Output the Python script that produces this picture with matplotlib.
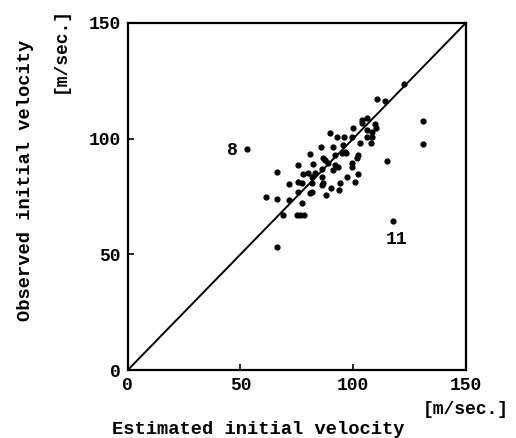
import matplotlib
matplotlib.use("Agg")
from matplotlib import pyplot as plt

# estimated vs observed initial velocity [m/sec.]
estimated = [52.8, 61.2, 66.1, 66.1, 66.1, 68.7, 71.7, 71.7, 75.4, 75.4,
             75.0, 76.5, 78.0, 77.3, 77.3, 77.9, 80.8, 80.8, 82.3, 81.6,
             83.0, 85.7, 86.7, 86.0, 87.9, 89.7, 91.2, 92.7, 90.1, 93.8,
             94.1, 96.3, 97.1, 99.3, 100.0, 100.8, 102.3, 103.0, 103.7, 105.9,
             105.9, 107.7, 108.2, 109.6, 110.4, 114.1, 114.8, 117.5, 122.7, 131.1,
             130.8, 87.4, 91.9, 94.8, 97.0, 102.2, 101.5, 99.3, 88.9, 91.9,
             93.3, 80.0, 86.0, 91.1, 99.3, 75.6, 81.5, 86.7, 86.0, 81.7,
             95.5, 95.8, 104.1, 110.3, 105.9, 108.1]
observed = [95.7, 74.6, 85.6, 73.8, 53.0, 67.2, 80.2, 73.4, 88.5, 77.0,
            66.9, 66.9, 66.9, 72.3, 80.9, 84.6, 93.3, 76.3, 89.0, 83.5,
            85.0, 96.2, 91.4, 79.9, 75.6, 102.2, 96.4, 100.8, 78.5, 77.7,
            80.6, 94.3, 83.5, 100.8, 104.4, 81.3, 84.9, 97.9, 108.0, 108.7,
            100.8, 97.9, 102.9, 106.5, 117.0, 116.2, 90.3, 64.3, 123.4, 107.5,
            97.5, 90.7, 92.9, 93.6, 93.6, 92.9, 91.4, 89.3, 89.6, 88.6,
            87.8, 85.3, 86.7, 86.4, 87.8, 81.4, 80.6, 80.6, 83.5, 77.0,
            97.2, 100.5, 106.6, 104.4, 103.7, 100.8]

ticks = [0, 50, 100, 150]
labels = {"8": (46.2, 95.0), "11": (119.4, 56.6)}

plt.rcParams['font.family'] = ['Liberation Mono', 'DejaVu Sans Mono']
plt.rcParams['font.weight'] = 'bold'

fig = plt.figure(figsize=(5.16, 4.38), dpi=100)
ax = fig.add_axes([0.2475, 0.155, 0.6556, 0.793])

ax.plot([0, 150], [0, 150], color="black", lw=1.4)
ax.scatter(estimated, observed, s=12, c="black", zorder=3)

for txt, (x, y) in labels.items():
    ax.text(x, y, txt, fontsize=13, ha="center", va="center", fontweight="bold")

ax.set_xlim(0, 150)
ax.set_ylim(0, 150)
ax.set_xticks(ticks)
ax.set_yticks(ticks)
ax.tick_params(direction="in", length=4, width=1.2, labelsize=13, pad=5)
for lab in ax.get_xticklabels() + ax.get_yticklabels():
    lab.set_fontweight("bold")
for s in ax.spines.values():
    s.set_linewidth(1.6)

fig.text(0.50, 0.02, "Estimated initial velocity", fontsize=13.5,
         ha="center", va="center", fontweight="bold")
fig.text(0.903, 0.064, "[m/sec.]", fontsize=13, ha="center", va="center",
         fontweight="bold")
fig.text(0.05, 0.589, "Observed initial velocity", fontsize=13.5, rotation=90,
         ha="center", va="center", fontweight="bold")
fig.text(0.116, 0.886, "[m/sec.]", fontsize=13, rotation=90,
         ha="center", va="center", fontweight="bold")

plt.savefig("out.png", dpi=100)
